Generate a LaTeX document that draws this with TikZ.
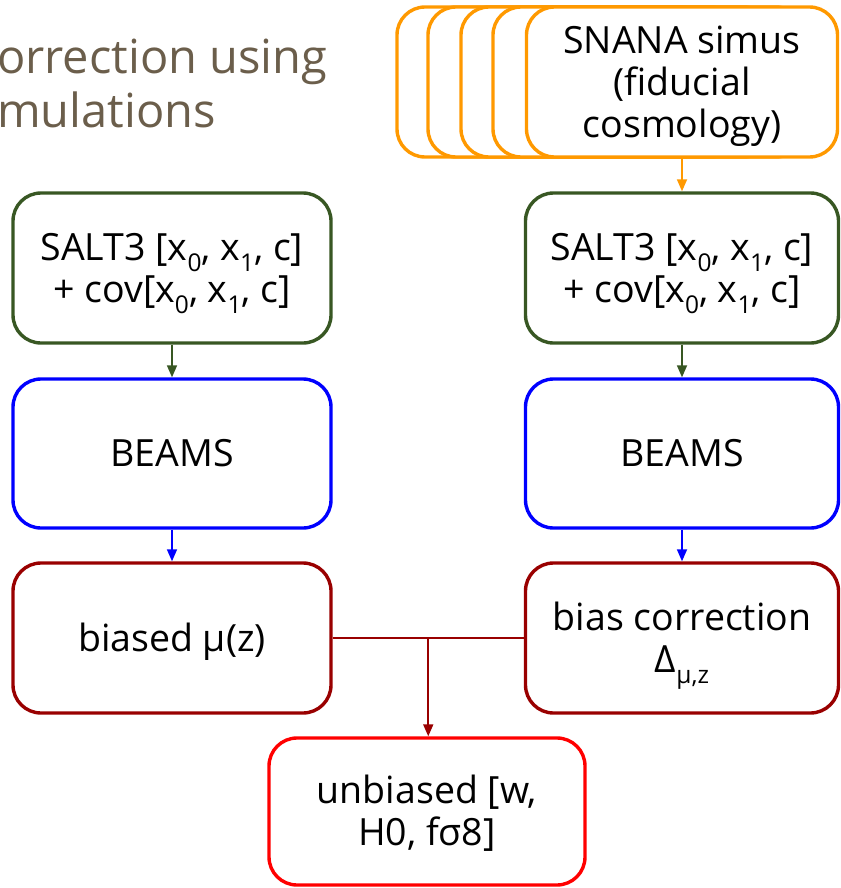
\documentclass[tikz,border=0pt]{standalone}
\usepackage{fontspec}
\setmainfont{Open Sans}
\usetikzlibrary{arrows.meta,calc}
\definecolor{titlec}{HTML}{6B5E4B}
\definecolor{orng}{HTML}{FF9900}
\definecolor{grn}{HTML}{385723}
\definecolor{blu}{HTML}{0000FF}
\definecolor{dred}{HTML}{990000}
\definecolor{bred}{HTML}{FF0000}
\newcommand\subsc[1]{\raisebox{-11pt}[0pt][0pt]{\fontsize{24.5}{24.5}\selectfont #1}}
\newcommand\topst{\rule{0pt}{40.8pt}}
\newcommand\botst{\rule[-14pt]{0pt}{14pt}}
\begin{document}
\begin{tikzpicture}[x=1pt,y=-1pt,
  box/.style={draw,line width=3.4pt,rounded corners=28pt,fill=white,align=center,
    font=\fontsize{37.5}{42}\selectfont,inner sep=0pt,text=black},
  lcol/.style={box,minimum width=318pt},
  rcol/.style={box,minimum width=313pt},
  conn/.style={line width=1.7pt,-{Triangle[length=12pt,width=10pt]}},
  titletext/.style={anchor=base west,inner sep=0pt,text=titlec,font=\fontsize{47}{54}\selectfont}]
\useasboundingbox (0,0) rectangle (840,888);

% title
\node[titletext] (t1) at (-3,74) {orrection using};
\node[titletext] (t2) at (-3,128) {mulations};

% stack of simulations
\foreach \cx/\nm in {552.5/s1,583.5/s2,616.5/s3,648.5/s4}
  \node[box,draw=orng,minimum width=311pt,minimum height=150pt] (\nm) at (\cx,82) {};
\node[box,draw=orng,minimum width=311pt,minimum height=150pt] (snana) at (682,82)
  {\topst SNANA simus\\(fiducial\\cosmology)\botst};

% left column
\node[lcol,draw=grn,minimum height=150pt] (lsalt) at (172,268)
  {\topst SALT3 [x\subsc{0}, x\subsc{1}, c]\\+ cov[x\subsc{0}, x\subsc{1}, c]\botst};
\node[lcol,draw=blu,minimum height=149pt] (lbeams) at (172,453.5) {\topst BEAMS\botst};
\node[lcol,draw=dred,minimum height=150pt] (biased) at (172,638) {\topst biased μ(z)\botst};

% right column
\node[rcol,draw=grn,minimum height=150pt] (rsalt) at (682,268)
  {\topst SALT3 [x\subsc{0}, x\subsc{1}, c]\\+ cov[x\subsc{0}, x\subsc{1}, c]\botst};
\node[rcol,draw=blu,minimum height=149pt] (rbeams) at (682,453.5) {\topst BEAMS\botst};
\node[rcol,draw=dred,minimum height=150pt] (bcorr) at (682,638)
  {\topst bias correction\\Δ\subsc{μ,z}\botst};

% result
\node[box,draw=bred,minimum width=316pt,minimum height=147pt] (final) at (427,811.5)
  {\topst unbiased [w,\\H0, fσ8]\botst};

% connectors
\draw[conn,orng] (snana.south) -- (rsalt.north);
\draw[conn,grn] (lsalt.south) -- (lbeams.north);
\draw[conn,grn] (rsalt.south) -- (rbeams.north);
\draw[conn,blu] (lbeams.south) -- (biased.north);
\draw[conn,blu] (rbeams.south) -- (bcorr.north);
\draw[line width=1.7pt,dred] (biased.east) -- (bcorr.west);
\coordinate (j) at ($(biased.east)!0.5!(bcorr.west)$);
\draw[conn,dred] (j) -- (j |- final.north);
\end{tikzpicture}
\end{document}
